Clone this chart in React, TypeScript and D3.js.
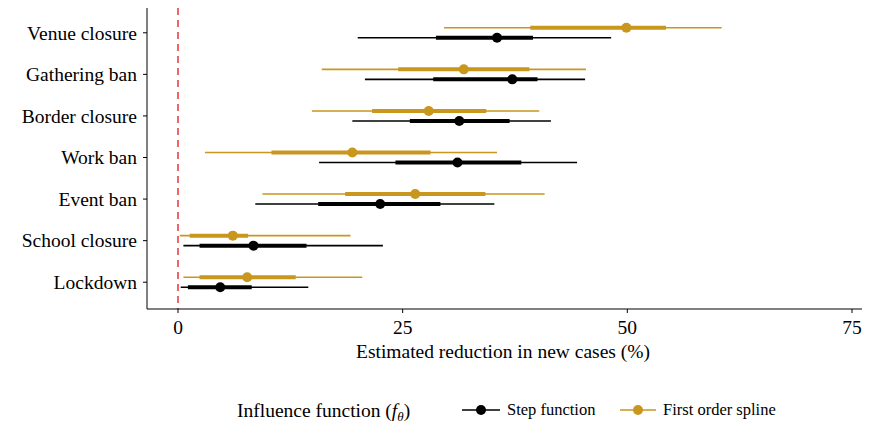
import * as d3 from 'd3'

const categories = ['Venue closure', 'Gathering ban', 'Border closure', 'Work ban', 'Event ban', 'School closure', 'Lockdown']
// [lo95, lo50, mid, hi50, hi95]
const stepVals = [
  [20.0, 28.7, 35.5, 39.5, 48.2],
  [20.8, 28.4, 37.2, 40.0, 45.3],
  [19.4, 25.8, 31.3, 36.9, 41.5],
  [15.7, 24.2, 31.1, 38.2, 44.4],
  [8.6, 15.6, 22.5, 29.2, 35.2],
  [0.6, 2.4, 8.4, 14.3, 22.8],
  [0.3, 1.1, 4.7, 8.2, 14.5],
]
const splineVals = [
  [29.6, 39.2, 49.9, 54.3, 60.5],
  [16.0, 24.5, 31.8, 39.1, 45.4],
  [14.9, 21.6, 27.9, 34.3, 40.2],
  [3.0, 10.4, 19.4, 28.1, 35.5],
  [9.4, 18.6, 26.4, 34.2, 40.8],
  [0.2, 1.3, 6.1, 7.8, 19.2],
  [0.6, 2.4, 7.7, 13.1, 20.5],
]
const xTicks = [0, 25, 50, 75]
const BLACK = '#000000'
const GOLD = '#C9961E'

export default function App() {
  const W = 878, H = 429
  const left = 147, right = 862, top = 8, bottom = 309
  const x = d3.scaleLinear().domain([0, 75]).range([178, 852])
  const y = d3.scaleBand().domain(categories).range([top + 4, bottom - 6]).padding(0)
  const font = 'Liberation Serif, Times New Roman, serif'
  const series = [
    { vals: stepVals, color: BLACK, off: 5 },
    { vals: splineVals, color: GOLD, off: -5 },
  ]
  return (
    <div style={{ margin: -8 }}>
      <svg width={W} height={H} style={{ display: 'block', background: '#fff' }} fontFamily={font}>
        <line x1={x(0)} x2={x(0)} y1={top} y2={bottom} stroke="#e0161c" strokeWidth={1.3} strokeDasharray="7,5" />
        {series.map((s, si) => (
          <g key={si}>
            {categories.map((c, i) => {
              const cy = y(c)! + y.bandwidth() / 2 + s.off
              const v = s.vals[i]
              return (
                <g key={c}>
                  <line x1={x(v[0])} x2={x(v[4])} y1={cy} y2={cy} stroke={s.color} strokeWidth={1.6} />
                  <line x1={x(v[1])} x2={x(v[3])} y1={cy} y2={cy} stroke={s.color} strokeWidth={4} />
                  <circle cx={x(v[2])} cy={cy} r={5} fill={s.color} />
                </g>
              )
            })}
          </g>
        ))}
        <line x1={left} x2={left} y1={top} y2={bottom} stroke="#000" />
        <line x1={left} x2={right} y1={bottom} y2={bottom} stroke="#000" />
        {categories.map(c => {
          const cy = y(c)! + y.bandwidth() / 2
          return (
            <g key={c}>
              <line x1={left - 4} x2={left} y1={cy} y2={cy} stroke="#000" />
              <text x={left - 10} y={cy} dy="0.35em" textAnchor="end" fontSize={19.5}>{c}</text>
            </g>
          )
        })}
        {xTicks.map(t => (
          <g key={t}>
            <line x1={x(t)} x2={x(t)} y1={bottom} y2={bottom + 4} stroke="#000" />
            <text x={x(t)} y={bottom + 25} textAnchor="middle" fontSize={19.5}>{t}</text>
          </g>
        ))}
        <text x={503} y={358} textAnchor="middle" fontSize={19.5}>Estimated reduction in new cases (%)</text>
        <text x={237} y={417} fontSize={19.5}>Influence function (<tspan fontStyle="italic">f</tspan><tspan fontStyle="italic" fontSize={13} dy={4}>θ</tspan><tspan dy={-4}>)</tspan></text>
        <line x1={462} x2={500} y1={410} y2={410} stroke={BLACK} strokeWidth={1.6} />
        <circle cx={481} cy={410} r={5} fill={BLACK} />
        <text x={507} y={415} fontSize={16.5}>Step function</text>
        <line x1={620} x2={656} y1={410} y2={410} stroke={GOLD} strokeWidth={1.6} />
        <circle cx={638} cy={410} r={5} fill={GOLD} />
        <text x={663} y={415} fontSize={16.5}>First order spline</text>
      </svg>
    </div>
  )
}
